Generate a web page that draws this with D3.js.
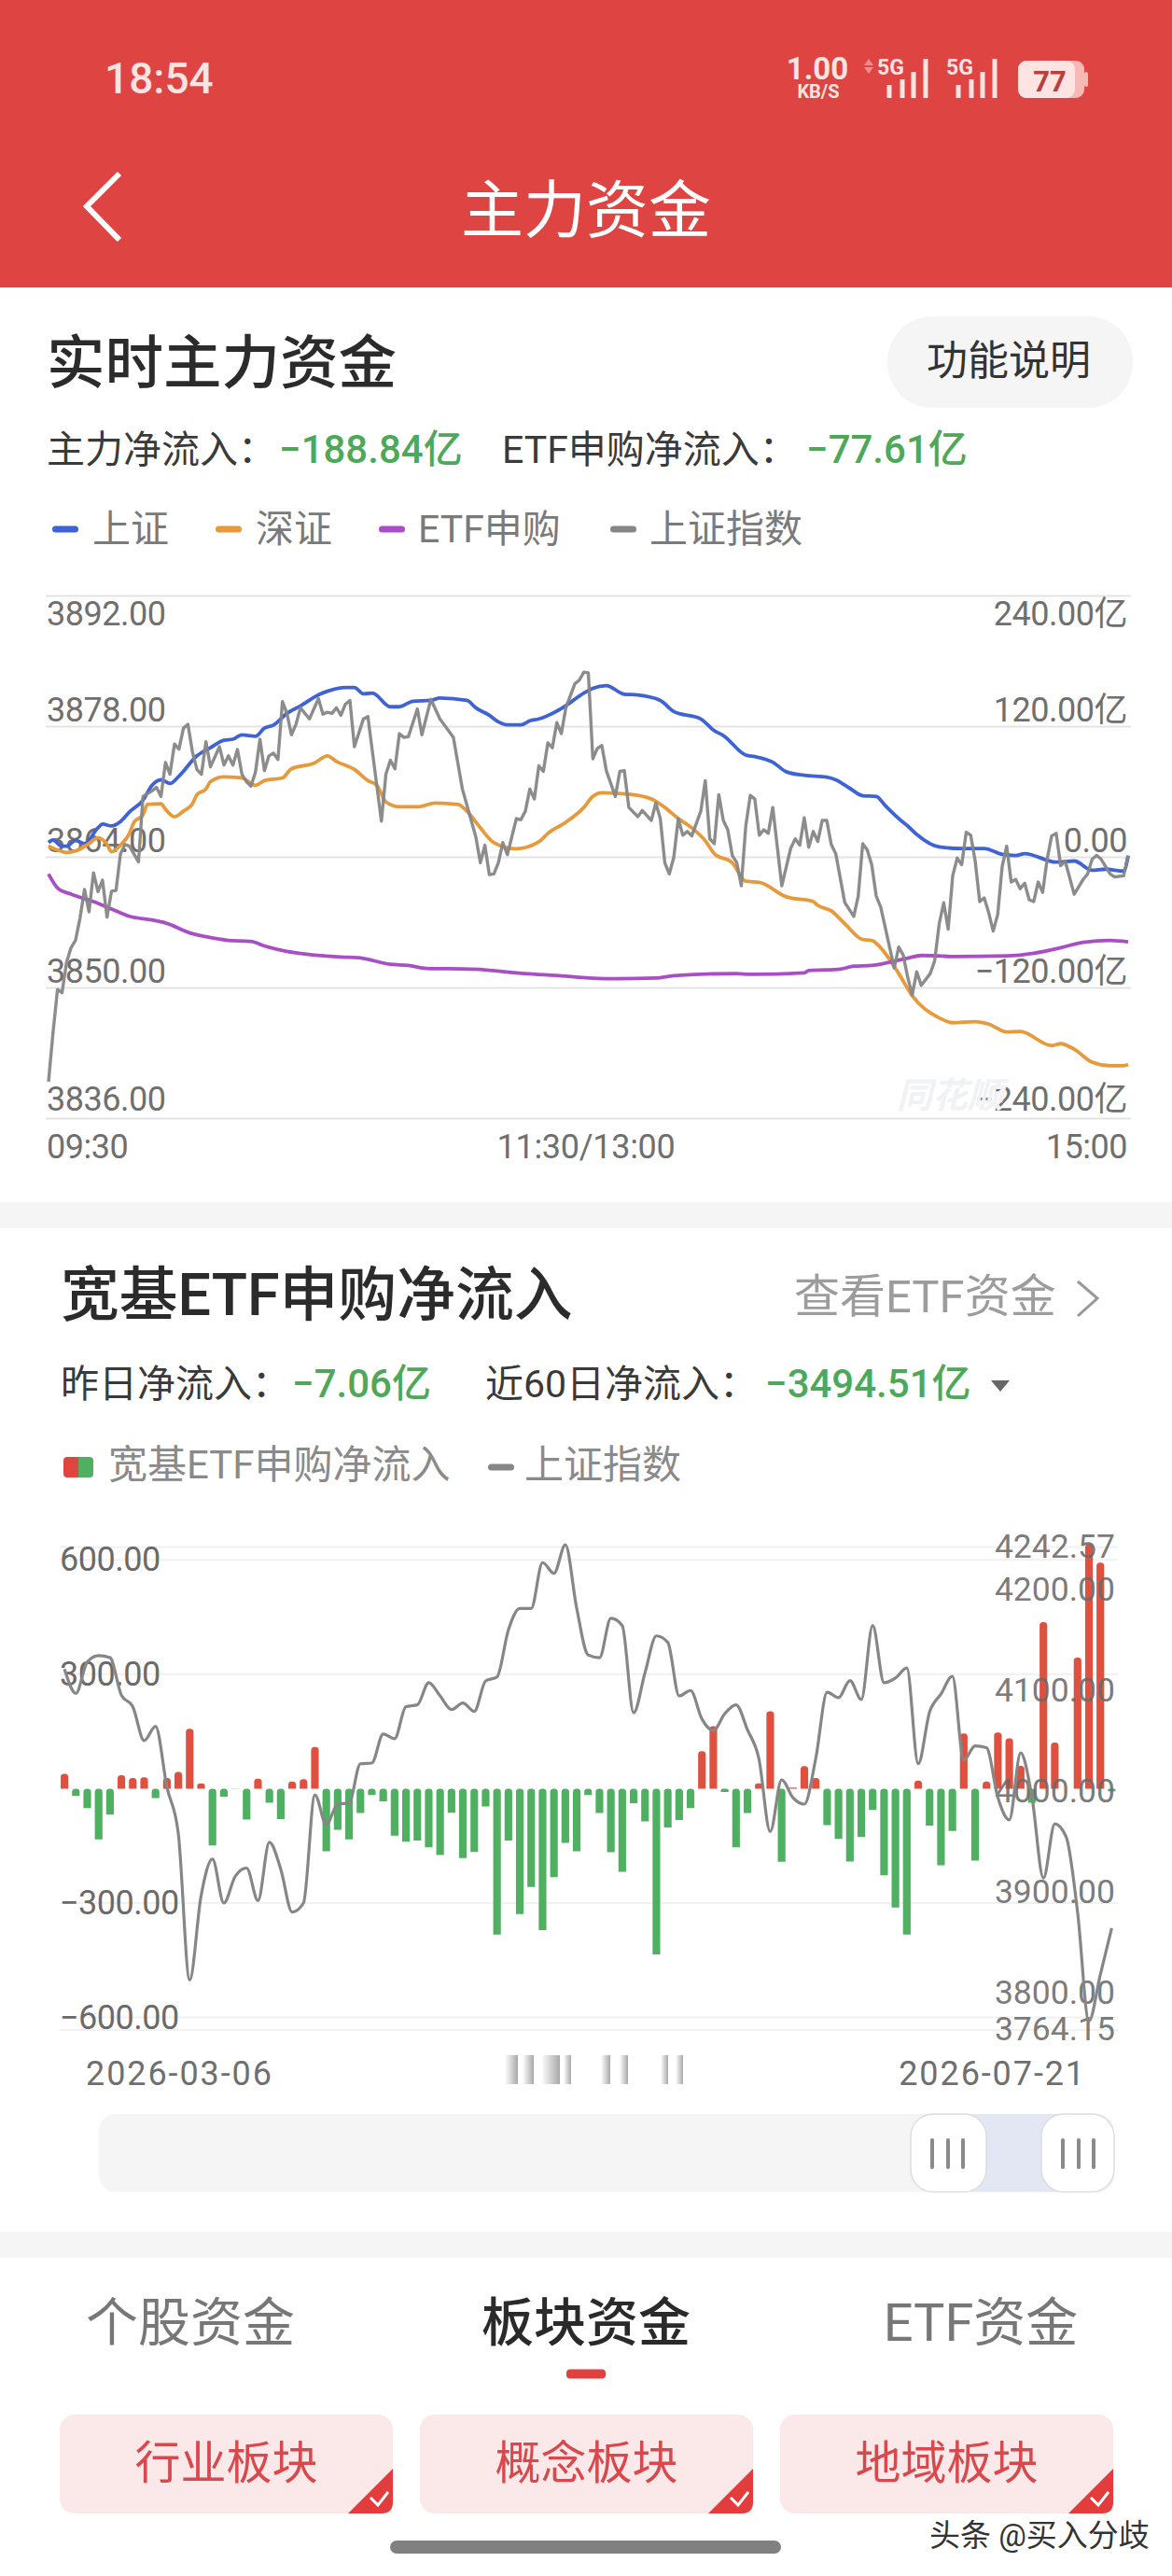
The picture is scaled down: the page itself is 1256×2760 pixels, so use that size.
<!DOCTYPE html>
<html lang="zh-CN">
<head>
<meta charset="utf-8">
<title>主力资金</title>
<script src="https://cdn.jsdelivr.net/npm/d3@7/dist/d3.min.js"></script>
<style>
  html, body { margin: 0; padding: 0; background: #fff; }
  svg { display: block; }
  text { font-family: Roboto, "Noto Sans CJK SC", sans-serif; }
</style>
</head>
<body>
<svg id="page" width="1256" height="2760"></svg>
<script>
// ---- intraday flows: [minute since 09:30 trading clock, value] ----
const shanghaiFlow = [[0,13.6],[1,15.9],[3,10.2],[4,10.2],[6,15.3],[8,12.6],[11,27.1],[12,30.5],[14,28.8],[16,32.9],[18,41.7],[21,52.5],[23,66.1],[25,71.2],[27,67.8],[29,74.6],[33,93.2],[36,100.7],[39,107.5],[41,108.5],[43,112.5],[46,111.2],[48,118.6],[50,121.4],[53,132.2],[56,139],[60,149.2],[62,152.5],[66,155.9],[68,155.9],[70,150.2],[72,150.8],[76,138.3],[78,138.3],[81,143.4],[85,144.1],[87,146.4],[93,144.1],[95,137.3],[98,130.5],[100,124.4],[102,121.7],[105,121.7],[107,125.4],[109,127.1],[114,136.6],[119,150.8],[121,155.2],[124,157.6],[128,149.8],[131,149.1],[136,144.1],[139,133.9],[145,127.1],[148,116.3],[150,111.9],[155,93.9],[157,92.5],[161,87.4],[164,78.6],[168,75.3],[173,73.6],[175,71.2],[178,63.7],[181,56.6],[184,55.9],[186,47.5],[189,35.6],[191,28.8],[193,21],[198,9.5],[203,8.1],[208,8.1],[212,2.7],[215,1.7],[217,3.4],[224,-4.4],[228,-3.4],[232,-11.9],[235,-10.9],[239,-12.6],[240,1.5]];
const shenzhenFlow = [[0,10.2],[2,6.8],[4,4.4],[7,7.5],[9,12.6],[11,18],[13,11.9],[14,5.1],[16,11.2],[18,22],[19,32.2],[21,39],[22,48.5],[25,49.2],[26,44.1],[28,37.3],[30,42.4],[32,49.2],[33,57.6],[35,62.7],[36,69.5],[39,73.9],[43,72.9],[46,66.1],[48,70.5],[52,72.9],[54,81.3],[59,86.4],[62,93.2],[64,88.1],[68,80.7],[71,70.5],[73,66.1],[75,50.8],[78,46.4],[82,46.4],[86,49.8],[91,48.5],[93,42.4],[96,27.1],[99,13.5],[104,7.8],[109,14.2],[111,22],[115,32.2],[119,45.8],[121,55.9],[123,59.3],[129,58],[134,53.6],[137,45.8],[140,35.6],[143,27.1],[146,15.2],[148,3.4],[152,-5.1],[155,-22],[158,-23],[164,-36.3],[170,-40.7],[171,-44.1],[174,-49.2],[177,-61],[181,-75.6],[183,-76.3],[186,-88.2],[189,-106.8],[192,-127.1],[198,-147.5],[201,-151.9],[206,-150.9],[209,-153.2],[213,-160.4],[216,-160],[223,-172.9],[225,-171.2],[228,-176.3],[232,-188.2],[236,-191.5],[239,-191.5],[240,-190.34]];
const etfFlow = [[0,-15.3],[2,-28.1],[5,-33.9],[10,-40.7],[15,-49.2],[18,-54.2],[23,-57.6],[26,-60.3],[32,-70.2],[35,-72.9],[40,-76.3],[45,-77.3],[48,-81.4],[53,-86.4],[57,-88.8],[65,-91.5],[69,-92.2],[76,-98.3],[80,-99.3],[84,-102],[94,-102.7],[106,-106.8],[115,-109.2],[118,-110.2],[126,-111.5],[135,-110.9],[139,-108.8],[153,-106.8],[156,-107.5],[168,-106.1],[169,-104.1],[176,-102.7],[179,-100],[183,-99.3],[191,-92.6],[194,-90.2],[198,-90.5],[201,-91.2],[213,-90.5],[219,-88.1],[225,-83],[230,-78],[236,-76.3],[240,-77.61]];
const shanghaiIndex = [[0,3839.95],[1,3845.21],[2,3849.84],[3,3849.48],[4,3852.73],[5,3854.31],[6,3855.10],[7,3857.47],[8,3860.56],[9,3858.15],[10,3862.34],[11,3860.32],[12,3861.55],[13,3857.59],[14,3860.36],[15,3860.44],[16,3864.39],[17,3865.38],[18,3865.19],[20,3863.52],[21,3870.52],[23,3871.12],[24,3871.51],[25,3870.52],[26,3874.16],[27,3872.90],[28,3876.14],[29,3875.59],[30,3877.84],[31,3878.24],[32,3875.27],[33,3873.41],[34,3872.90],[35,3876.38],[36,3873.69],[38,3875.86],[39,3873.89],[40,3874.87],[41,3873.89],[42,3875.55],[43,3872.90],[44,3872.11],[45,3871.63],[46,3873.10],[47,3876.65],[48,3873.29],[49,3874.87],[50,3875.15],[51,3874.48],[52,3880.69],[53,3879.42],[54,3877.13],[55,3878.24],[56,3880.02],[58,3878.83],[60,3881.01],[61,3879.34],[62,3879.54],[63,3879.42],[64,3880.02],[65,3879.23],[66,3880.41],[67,3880.81],[68,3875.86],[70,3878.83],[71,3879.07],[74,3867.87],[75,3872.90],[76,3874.40],[77,3873.49],[78,3877.25],[79,3876.85],[80,3876.93],[82,3879.90],[83,3877.13],[85,3880.93],[87,3878.83],[90,3876.85],[92,3871.32],[95,3866.17],[96,3863.41],[97,3865.30],[98,3862.14],[99,3862.22],[100,3863.41],[101,3865.58],[102,3864.28],[104,3868.15],[105,3868.03],[106,3868.94],[107,3871.32],[108,3870.25],[109,3873.81],[110,3873.21],[111,3876.26],[112,3875.74],[113,3878.43],[114,3877.25],[115,3880.02],[117,3882.59],[118,3882.98],[119,3883.85],[120,3883.77],[121,3874.56],[122,3875.67],[123,3875.98],[124,3873.29],[125,3871.91],[126,3870.52],[127,3873.21],[128,3873.29],[129,3869.34],[131,3868.35],[132,3869.02],[134,3867.95],[135,3869.81],[136,3868.15],[137,3863.41],[138,3862.22],[139,3864.00],[140,3868.15],[141,3866.37],[142,3866.77],[143,3866.29],[145,3868.94],[146,3872.22],[147,3865.98],[148,3865.46],[149,3870.72],[150,3867.95],[151,3866.96],[152,3864.20],[153,3863.41],[154,3860.95],[155,3867.36],[156,3870.64],[157,3870.25],[158,3866.37],[159,3866.96],[160,3866.57],[161,3869.34],[163,3860.95],[165,3864.99],[166,3865.98],[167,3865.30],[168,3868.23],[169,3865.07],[170,3866.77],[171,3865.70],[172,3867.95],[173,3867.95],[174,3865.38],[175,3864.39],[177,3859.17],[179,3857.67],[180,3859.85],[181,3865.46],[182,3864.79],[183,3863.21],[184,3859.85],[185,3858.66],[186,3856.48],[188,3852.13],[189,3854.39],[190,3853.52],[191,3851.14],[192,3849.25],[193,3851.74],[194,3850.27],[196,3851.54],[197,3852.92],[198,3856.88],[199,3859.13],[200,3856.29],[201,3862.02],[202,3863.92],[203,3863.21],[204,3866.69],[205,3866.37],[206,3863.60],[207,3859.25],[208,3859.65],[209,3858.07],[210,3856.09],[211,3857.87],[212,3863.01],[213,3865.19],[214,3861.35],[215,3861.63],[216,3860.64],[217,3861.23],[218,3859.45],[219,3859.25],[220,3861.35],[221,3860.24],[222,3863.80],[223,3866.29],[224,3866.57],[225,3863.09],[226,3863.60],[228,3860.04],[230,3861.63],[231,3862.22],[232,3863.80],[233,3864.20],[234,3863.80],[236,3862.22],[237,3861.90],[239,3862.02],[240,3864.20]];

const indexTicks = [3892, 3878, 3864, 3850, 3836];
const flowTicks = [240, 120, 0, -120, -240];
const flowLegend = [
  { name: "上证", color: "#3f63d4", dash: 56, label: 99 },
  { name: "深证", color: "#e69a3c", dash: 231, label: 274 },
  { name: "ETF申购", color: "#a94fc6", dash: 406, label: 448 },
  { name: "上证指数", color: "#868686", dash: 654, label: 696 }
];

// ---- 60-day view: one entry per trading day ----
const etfNetInflow = [39,-19,-51,-133,-68,35,28,30,-25,28,44,157,14,-149,-21,-1,-81,26,-37,-80,19,25,109,-164,-108,-133,-64,-17,-33,-123,-139,-136,-154,-174,-63,-182,-166,-47,-383,-136,-329,-258,-371,-232,-142,-164,-17,-64,-167,-218,-38,-86,-435,-102,-82,-51,98,164,-9,-154,-64,14,203,-192,3,59,28,-96,-132,-191,-127,-56,-227,-312,-383,21,-97,-201,-111,145,-189,19,147,132,60,-37,437,121,0,344,641,593,-7.06];
const dailyIndex = [4117.7,4093.3,4124.9,4131.3,4129.2,4091.5,4080.0,4045.9,4060.3,3999.2,3952.6,3805.4,3889.8,3926.8,3882.6,3909.5,3917.8,3885.1,3943.6,3916.7,3873.6,3882.6,3991.3,3961.5,3982.0,3983.1,4022.6,4023.3,4052.4,4047.7,4080.0,4081.8,4104.0,4090.8,4077.1,4083.6,4075.3,4105.8,4109.8,4157.2,4178.7,4178.7,4224.7,4213.9,4242.57,4178.7,4132.0,4129.2,4168.7,4161.5,4073.9,4114.1,4151.1,4144.6,4090.8,4096.2,4067.5,4056.0,4072.8,4081.8,4056.7,4028.0,3954.4,4006.4,3988.5,3982.0,4028.0,4094.4,4089.0,4106.2,4087.2,4161.5,4104.0,4108.7,4118.8,4022.6,4074.6,4092.6,4110.5,4026.2,4040.5,4038.7,3988.5,3966.2,4033.4,3988.5,3907.7,3962.3,3949.0,3873.6,3764.15,3810.8,3857.5];
const inflowTicks = [600, 300, -300, -600];
const priceTicks = [4242.57, 4200, 4100, 4000, 3900, 3800, 3764.15];

const tabs = [
  { name: "个股资金", x: 204, active: false },
  { name: "板块资金", x: 628, active: true },
  { name: "ETF资金", x: 1051, active: false }
];
const sectorButtons = [
  { name: "行业板块", x: 64 },
  { name: "概念板块", x: 450 },
  { name: "地域板块", x: 836 }
];

const svg = d3.select("#page");

function label(parent, x, y, str, opts = {}) {
  const node = parent.append("text")
    .attr("x", x).attr("y", y)
    .attr("font-size", opts.size || 36)
    .attr("fill", opts.fill || "#6f6f6f")
    .attr("text-anchor", opts.anchor || "start")
    .attr("font-weight", opts.weight || 400)
    .text(str);
  if (opts.spacing) node.attr("letter-spacing", opts.spacing);
  return node;
}
const hline = (parent, x1, x2, y, color) => parent.append("line")
  .attr("x1", x1).attr("x2", x2).attr("y1", y).attr("y2", y)
  .attr("stroke", color).attr("stroke-width", 2);
const dash = (parent, x, y, w, color) => parent.append("rect")
  .attr("x", x).attr("y", y - 3.5).attr("width", w).attr("height", 7)
  .attr("rx", 3.5).attr("fill", color);
const fmt = v => (v < 0 ? "−" : "") + Math.abs(v).toFixed(2);

// ---- app bar ----
const bar = svg.append("g");
bar.append("rect").attr("width", 1256).attr("height", 308).attr("fill", "#de4442");
label(bar, 112, 100, "18:54", { size: 46, fill: "#fbe3e1", weight: 500 });
label(bar, 876, 85, "1.00", { size: 33, fill: "#fbe3e1", weight: 700, anchor: "middle" });
label(bar, 877, 105, "KB/S", { size: 20, fill: "#fbe3e1", weight: 700, anchor: "middle" });
bar.append("path").attr("d", "M931 63l5 7h-10zM931 79l5-7h-10z").attr("fill", "#ee8f8b");
[[0, 942], [74, 1016]].forEach(([dx]) => {
  label(bar, 940 + dx, 80, "5G", { size: 23, fill: "#fbe3e1", weight: 700 });
  [[953, 91], [967, 85], [979, 77], [992, 63]].forEach(([x, top]) => {
    bar.append("rect").attr("x", x + dx - 2.5).attr("y", top).attr("width", 5)
      .attr("height", 105 - top).attr("fill", "#fbe3e1");
  });
});
bar.append("rect").attr("x", 1091).attr("y", 65).attr("width", 71).attr("height", 40).attr("rx", 9).attr("fill", "#f6b9b5");
bar.append("rect").attr("x", 1091).attr("y", 65).attr("width", 61).attr("height", 40).attr("rx", 9).attr("fill", "#fde3e1");
bar.append("rect").attr("x", 1162).attr("y", 77).attr("width", 4).attr("height", 16).attr("rx", 2).attr("fill", "#f6b9b5");
label(bar, 1125, 98, "77", { size: 31, fill: "#b8403d", weight: 700, anchor: "middle" });
bar.append("path").attr("d", "M128 186L93 221L128 257").attr("fill", "none").attr("stroke", "#fff").attr("stroke-width", 6);
label(bar, 628, 249, "主力资金", { size: 67, fill: "#fff", anchor: "middle" });

// ---- realtime flow section heading ----
const head1 = svg.append("g");
label(head1, 50, 411, "实时主力资金", { size: 62.5, fill: "#2b2b2b", weight: 500 });
head1.append("rect").attr("x", 951).attr("y", 339).attr("width", 263).attr("height", 98).attr("rx", 48).attr("fill", "#f5f5f5");
label(head1, 1081, 402, "功能说明", { size: 44, fill: "#333", anchor: "middle" });
label(head1, 50, 496, "主力净流入：", { size: 41, fill: "#3a3a3a" });
label(head1, 299, 496, "−188.84亿", { size: 42, fill: "#4ea85a", weight: 500 });
label(head1, 538, 496, "ETF申购净流入：", { size: 41, fill: "#3a3a3a" });
label(head1, 864, 496, "−77.61亿", { size: 42, fill: "#4ea85a", weight: 500 });
flowLegend.forEach(d => {
  dash(head1, d.dash, 567, 28, d.color);
  label(head1, d.label, 581, d.name, { size: 41, fill: "#7a7a7a" });
});

// ---- realtime flow chart ----
const intraday = svg.append("g");
const xMinute = d3.scaleLinear().domain([0, 240]).range([52, 1209]);
const yIndex = d3.scaleLinear().domain([3836, 3892]).range([1198.5, 638.6]);
const yFlow = d3.scaleLinear().domain([-240, 240]).range([1198.5, 638.6]);

indexTicks.forEach(v => hline(intraday, 49, 1212, yIndex(v), "#e4e4e4"));
const labelOffset = i => (i === 0 ? 31 : i === 4 ? -9 : -6);
indexTicks.forEach((v, i) => label(intraday, 50, yIndex(v) + labelOffset(i), v.toFixed(2), { size: 36, spacing: -0.5 }));
flowTicks.forEach((v, i) => label(intraday, 1208, yFlow(v) + labelOffset(i), v === 0 ? "0.00" : fmt(v) + "亿", { size: 36, anchor: "end", spacing: -0.5 }));
label(intraday, 50, 1241, "09:30", { size: 36, spacing: -0.5 });
label(intraday, 628, 1241, "11:30/13:00", { size: 36, anchor: "middle", spacing: -0.3 });
label(intraday, 1208, 1241, "15:00", { size: 36, anchor: "end", spacing: -0.5 });
label(intraday, 1018, 1187, "同花顺", { size: 38, fill: "#f0f2f4", anchor: "middle", weight: 700 }).attr("font-style", "italic");

const pathFlow = d3.line().x(d => xMinute(d[0])).y(d => yFlow(d[1])).curve(d3.curveMonotoneX);
const pathIndex = d3.line().x(d => xMinute(d[0])).y(d => yIndex(d[1]));
intraday.selectAll("path.flow")
  .data([
    { values: shanghaiFlow, color: flowLegend[0].color },
    { values: shenzhenFlow, color: flowLegend[1].color },
    { values: etfFlow, color: flowLegend[2].color }
  ])
  .join("path").attr("class", "flow")
  .attr("d", d => pathFlow(d.values))
  .attr("fill", "none").attr("stroke", d => d.color)
  .attr("stroke-width", 3.8).attr("stroke-linejoin", "round");
intraday.append("path").attr("d", pathIndex(shanghaiIndex))
  .attr("fill", "none").attr("stroke", flowLegend[3].color)
  .attr("stroke-width", 3.4).attr("stroke-linejoin", "round").attr("opacity", 0.95);

// section divider
svg.append("rect").attr("y", 1288).attr("width", 1256).attr("height", 28).attr("fill", "#f5f5f5");

// ---- ETF section heading ----
const head2 = svg.append("g");
label(head2, 65, 1409, "宽基ETF申购净流入", { size: 62.8, fill: "#2b2b2b", weight: 500 });
label(head2, 851, 1406, "查看ETF资金", { size: 49, fill: "#9c9c9c" });
head2.append("path").attr("d", "M1155 1373L1176 1391L1155 1410").attr("fill", "none").attr("stroke", "#999").attr("stroke-width", 3);
label(head2, 65, 1497, "昨日净流入：", { size: 41, fill: "#3a3a3a" });
label(head2, 313, 1497, "−7.06亿", { size: 42, fill: "#4ea85a", weight: 500 });
label(head2, 520, 1497, "近60日净流入：", { size: 41, fill: "#3a3a3a" });
label(head2, 820, 1497, "−3494.51亿", { size: 42, fill: "#4ea85a", weight: 500 });
head2.append("path").attr("d", "M1062 1479h20l-10 12z").attr("fill", "#666");
head2.append("clipPath").attr("id", "swatch").append("rect")
  .attr("x", 68).attr("y", 1561).attr("width", 32).attr("height", 22).attr("rx", 4);
const swatch = head2.append("g").attr("clip-path", "url(#swatch)");
swatch.append("rect").attr("x", 68).attr("y", 1561).attr("width", 16).attr("height", 22).attr("fill", "#e04640");
swatch.append("rect").attr("x", 84).attr("y", 1561).attr("width", 16).attr("height", 22).attr("fill", "#4fb061");
label(head2, 116, 1584, "宽基ETF申购净流入", { size: 42, fill: "#8a8a8a" });
dash(head2, 523, 1572, 28, "#868686");
label(head2, 562, 1584, "上证指数", { size: 42, fill: "#8a8a8a" });

// ---- ETF net inflow chart ----
const daily = svg.append("g");
const xDay = d3.scaleBand().domain(d3.range(etfNetInflow.length)).range([63, 1197.5]).paddingInner(0.33).paddingOuter(0.165);
const yInflow = d3.scaleLinear().domain([-600, 600]).range([2161.5, 1671.3]);
const yPriceLine = d3.scaleLinear().domain([3764.15, 4242.57]).range([2165.3, 1655.2]);
const yPriceLabel = d3.scaleLinear().domain([3800, 4200]).range([2134.7, 1702.3]);
const yPriceFrame = d3.scaleLinear().domain([3764.15, 4242.57]).range([2174.9, 1657.5]);

[4242.57, 3764.15].forEach(v => hline(daily, 64, 1198, yPriceFrame(v), "#f1f1f1"));
inflowTicks.forEach(v => hline(daily, 64, 1198, yInflow(v), "#f1f1f1"));

// bars have a rounded top end on both sides of the baseline
daily.selectAll("path.bar").data(etfNetInflow).join("path").attr("class", "bar")
  .attr("d", (v, i) => {
    const x = xDay(i), w = xDay.bandwidth();
    const top = yInflow(Math.max(v, 0)), bottom = yInflow(Math.min(v, 0));
    const r = Math.min(3.5, (bottom - top) / 2);
    return `M${x} ${bottom}V${top + r}Q${x} ${top} ${x + r} ${top}H${x + w - r}Q${x + w} ${top} ${x + w} ${top + r}V${bottom}Z`;
  })
  .attr("fill", v => (v >= 0 ? "#e0503f" : "#4fb061"));

const labelGroup = daily.append("g");
inflowTicks.forEach(v => label(labelGroup, 64, yInflow(v) + 12, fmt(v), { size: 36, fill: "#6a6a6a", spacing: -0.5 }));
priceTicks.forEach(v => label(labelGroup, 1195, yPriceLabel(v) + 12.5, v.toFixed(2), { size: 35.5, fill: "#6a6a6a", anchor: "end" }).attr("fill-opacity", 0.9));

const pathDaily = d3.line()
  .x((d, i) => xDay(i) + xDay.bandwidth() / 2)
  .y(d => yPriceLine(d))
  .curve(d3.curveMonotoneX);
daily.append("path").attr("d", pathDaily(dailyIndex))
  .attr("fill", "none").attr("stroke", "#868686").attr("stroke-width", 3.2);

label(daily, 92, 2234, "2026-03-06", { size: 36, fill: "#6f6f6f", spacing: 1.9 });
label(daily, 1164, 2234, "2026-07-21", { size: 36, fill: "#6f6f6f", anchor: "end", spacing: 1.9 });

// masked caption between the two dates
const defs = svg.append("defs");
const fade = defs.append("linearGradient").attr("id", "maskFade");
fade.append("stop").attr("offset", "0%").attr("stop-color", "#fff");
fade.append("stop").attr("offset", "100%").attr("stop-color", "#a8a8a8");
[[541, 14], [560, 12], [580, 20], [604, 8], [644, 10], [664, 9], [708, 8], [724, 8]].forEach(([x, w]) => {
  daily.append("rect").attr("x", x).attr("y", 2202).attr("width", w).attr("height", 31).attr("fill", "url(#maskFade)");
});

// ---- range slider ----
const slider = svg.append("g");
slider.append("rect").attr("x", 106).attr("y", 2265).attr("width", 1088).attr("height", 83.5).attr("rx", 18).attr("fill", "#f5f5f5");
slider.append("rect").attr("x", 1040).attr("y", 2265).attr("width", 100).attr("height", 83.5).attr("fill", "#e3e7f4");
[[976, 81], [1116, 78]].forEach(([x, w]) => {
  slider.append("rect").attr("x", x).attr("y", 2265).attr("width", w).attr("height", 83.5).attr("rx", 24)
    .attr("fill", "#fff").attr("stroke", "#dddddd").attr("stroke-width", 1.5);
  [23, 40, 56].forEach(dx => slider.append("rect").attr("x", x + dx - 2).attr("y", 2291).attr("width", 4).attr("height", 33).attr("rx", 2).attr("fill", "#8a8a8a"));
});

// section divider
svg.append("rect").attr("y", 2391).attr("width", 1256).attr("height", 28).attr("fill", "#f5f5f5");

// ---- tabs and sector buttons ----
const footer = svg.append("g");
tabs.forEach(t => label(footer, t.x, 2508, t.name, {
  size: 56, anchor: "middle", weight: t.active ? 500 : 400, fill: t.active ? "#2a2a2a" : "#777"
}));
footer.append("rect").attr("x", 607).attr("y", 2538.5).attr("width", 42).attr("height", 10).attr("rx", 4).attr("fill", "#e0413f");
sectorButtons.forEach(b => {
  const w = 357, top = 2587, bottom = 2693;
  footer.append("rect").attr("x", b.x).attr("y", top).attr("width", w).attr("height", bottom - top).attr("rx", 16).attr("fill", "#fbe9ea");
  label(footer, b.x + w / 2, 2656, b.name, { size: 49, fill: "#d8484c", anchor: "middle" });
  const r = b.x + w;
  footer.append("path").attr("d", `M${r} 2645V${bottom - 12}Q${r} ${bottom} ${r - 12} ${bottom}H${r - 48}Z`).attr("fill", "#e23c3c");
  footer.append("path").attr("d", `M${r - 24} 2676L${r - 16} 2684L${r - 5} 2670`).attr("fill", "none").attr("stroke", "#fff").attr("stroke-width", 3);
});
label(footer, 996, 2728, "头条 @买入分歧", { size: 33, fill: "#333" })
  .attr("stroke", "#fff").attr("stroke-width", 3).attr("paint-order", "stroke");
footer.append("rect").attr("x", 418).attr("y", 2722).attr("width", 419).attr("height", 14).attr("rx", 7).attr("fill", "#808080");
</script>
</body>
</html>
